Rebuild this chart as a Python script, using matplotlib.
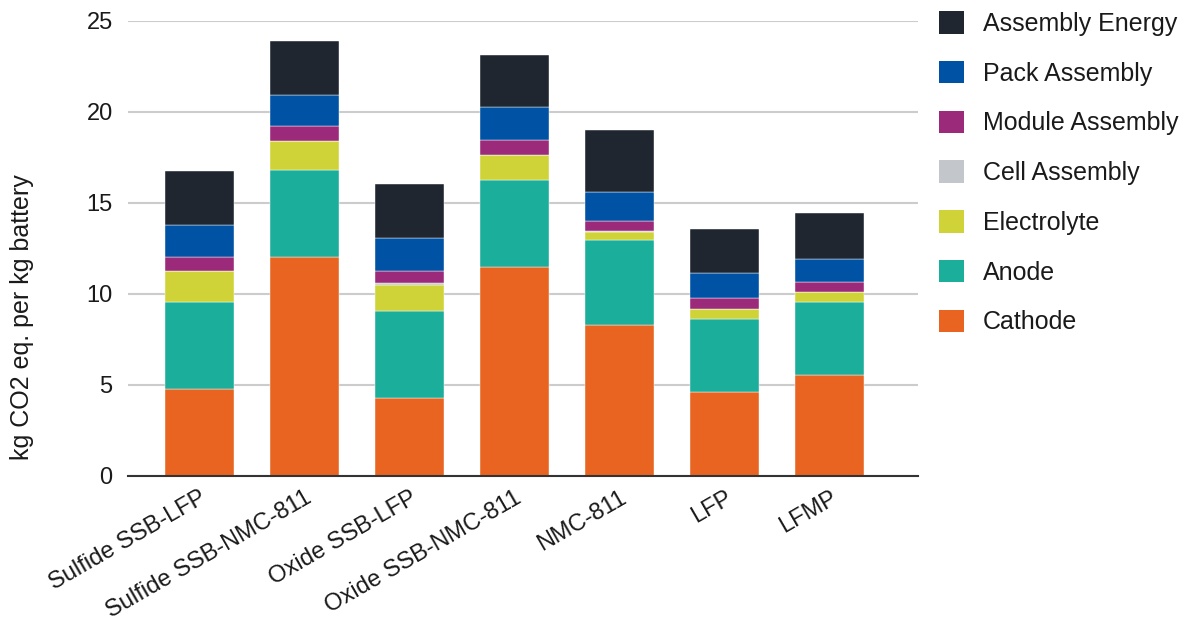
import matplotlib.pyplot as plt
from matplotlib.patches import Patch

plt.rcParams['font.family'] = ['Liberation Sans', 'DejaVu Sans']

# battery chemistries
batteries = ['Sulfide SSB-LFP', 'Sulfide SSB-NMC-811', 'Oxide SSB-LFP',
             'Oxide SSB-NMC-811', 'NMC-811', 'LFP', 'LFMP']

# kg CO2 eq. per kg battery, by component
cathode = [4.77, 12.05, 4.30, 11.47, 8.28, 4.63, 5.55]
anode = [4.77, 4.76, 4.78, 4.81, 4.69, 4.00, 3.99]
electrolyte = [1.70, 1.57, 1.41, 1.35, 0.45, 0.54, 0.55]
cell_assembly = [0.02, 0.02, 0.09, 0.02, 0.02, 0.02, 0.02]
module_assembly = [0.79, 0.83, 0.68, 0.81, 0.57, 0.59, 0.57]
pack_assembly = [1.72, 1.70, 1.82, 1.81, 1.59, 1.36, 1.24]
assembly_energy = [2.99, 2.97, 2.96, 2.86, 3.41, 2.41, 2.51]

series = [
    ('Cathode', cathode, '#e86420'),
    ('Anode', anode, '#1baf9b'),
    ('Electrolyte', electrolyte, '#cfd338'),
    ('Cell Assembly', cell_assembly, '#c3c7cb'),
    ('Module Assembly', module_assembly, '#9c2a7a'),
    ('Pack Assembly', pack_assembly, '#0052a5'),
    ('Assembly Energy', assembly_energy, '#1f2630'),
]

txt = '#1a1a1a'
fs = 17

fig = plt.figure(figsize=(11.86, 6.35), dpi=100)
ax = fig.add_axes([0.1079, 0.2504, 0.666, 0.7166])

x = list(range(len(batteries)))
bottom = [0.0] * len(batteries)
for name, vals, color in series:
    ax.bar(x, vals, width=0.65, bottom=bottom, color=color,
           edgecolor='white', linewidth=0.3, label=name, zorder=3)
    bottom = [b + v for b, v in zip(bottom, vals)]

ax.set_xlim(-0.68, 6.84)
ax.set_ylim(0, 25)
ax.set_yticks([0, 5, 10, 15, 20, 25])
ax.yaxis.grid(True, color='#cccccc', linewidth=1.5, zorder=0)
ax.set_axisbelow(True)
for s in ['top', 'right', 'left']:
    ax.spines[s].set_visible(False)
ax.spines['bottom'].set_color('#333333')
ax.spines['bottom'].set_linewidth(1.5)
ax.spines['bottom'].set_zorder(4)
ax.tick_params(axis='both', length=0, labelsize=fs, colors=txt)
ax.tick_params(axis='y', pad=11)
ax.tick_params(axis='x', pad=8)
ax.set_xticks(x)
ax.set_xticklabels(batteries, rotation=30, ha='right', rotation_mode='anchor')

# y title sits centred on the whole figure height
fig.text(22 / 1186, 0.5, 'kg CO2 eq. per kg battery', rotation=90,
         ha='center', va='center', fontsize=18, color=txt)

handles = [Patch(facecolor=c, label=n) for n, v, c in series][::-1]
fig.legend(handles=handles, loc='upper left', bbox_to_anchor=(0.779, 1.006),
           frameon=False, fontsize=18, handlelength=1.0, handleheight=1.0,
           labelspacing=1.0, handletextpad=0.75, labelcolor=txt,
           borderaxespad=0.2)

fig.savefig('out.png', dpi=100)
